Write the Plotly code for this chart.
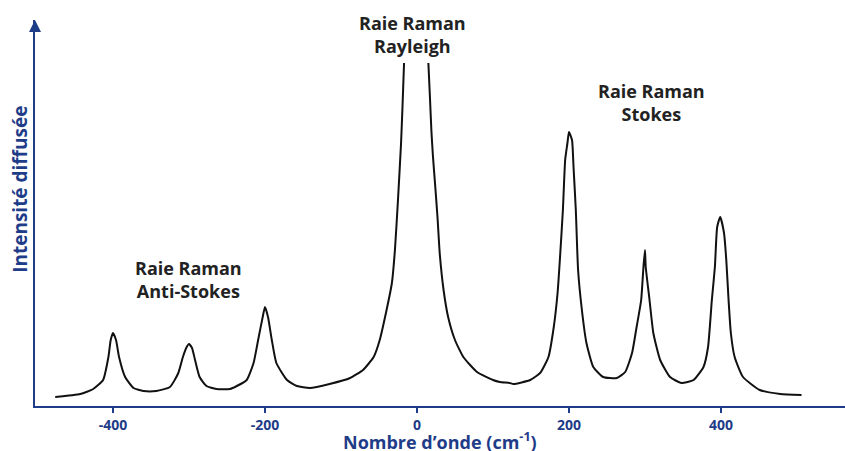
import plotly.graph_objects as go

# Wavenumber (cm-1) and scattered intensity (arbitrary units)
wavenumber = [
    -476, -443, -426, -413, -406, -403, -400, -396, -392, -384, -373, -360, -343,
    -325, -314, -308, -303, -300, -296, -292, -286, -277, -264, -246,
    -237, -224, -215, -209, -203, -200, -196, -191, -185, -171, -158, -141,
    -115, -88, -71, -57, -49, -40, -33, -29, -25, -21, -19, -17,
    None,
    15, 17, 19, 21, 24, 27, 30, 35, 41, 50, 61, 79, 100, 109, 122, 127,
    149, 162, 173, 180, 185, 188, 192, 195, 198, 200, 204, 206, 209, 212, 217, 223, 232, 245,
    263, 274, 283, 289, 295, 298, 300, 301, 306, 311, 320, 333, 348,
    364, 377, 383, 388, 392, 395, 399, 404, 407, 410, 413, 418, 429, 451, 478, 506,
]
intensity = [
    9, 12, 17, 26, 49, 66, 73, 66, 49, 29, 18, 15, 15,
    19, 33, 49, 59, 62, 58, 46, 29, 20, 17, 17,
    20, 26, 43, 66, 89, 99, 89, 66, 43, 26, 20, 18,
    22, 28, 36, 49, 66, 96, 123, 156, 206, 262, 300, 343,
    None,
    343, 310, 275, 250, 220, 189, 152, 116, 89, 66, 49, 34, 26, 24, 23, 22,
    26, 33, 49, 79, 113, 146, 196, 246, 263, 274, 266, 239, 196, 136, 96, 63, 39, 29,
    28, 34, 53, 79, 106, 139, 156, 139, 106, 73, 46, 29, 23,
    26, 39, 59, 106, 139, 179, 189, 173, 146, 106, 73, 49, 29, 16, 12, 11,
]

tick_values = [-400, -200, 0, 200, 400]
tick_labels = ["-400", "-200", "0", "200", "400"]

labels = ["Raie Raman<br>Anti-Stokes", "Raie Raman<br>Rayleigh", "Raie Raman<br>Stokes"]
label_x = [-300, -6, 309]
label_y = [127, 372, 304]

NAVY = "#1F3C88"
FONT = "Open Sans"

fig = go.Figure()
fig.add_trace(go.Scatter(
    x=wavenumber, y=intensity, mode="lines",
    line=dict(color="#111111", width=2, shape="spline", smoothing=0.5),
    connectgaps=False, hoverinfo="skip", showlegend=False,
))

for t, xx, yy in zip(labels, label_x, label_y):
    fig.add_annotation(x=xx, y=yy, xref="x", yref="y", text=t, showarrow=False,
                       font=dict(family=FONT, size=18, color="#222222", weight="bold"),
                       align="center", xanchor="center", yanchor="middle")

# y-axis title
fig.add_annotation(x=-0.0185, y=0.56, xref="paper", yref="paper",
                   xanchor="center", yanchor="middle",
                   text="Intensité diffusée", textangle=-90, showarrow=False,
                   font=dict(family=FONT, size=19, color=NAVY, weight="bold"))
# x-axis title
fig.add_annotation(x=0.5, y=-0.0895, xref="paper", yref="paper",
                   xanchor="center", yanchor="middle",
                   text="Nombre d’onde (cm<sup>-1</sup>)", showarrow=False,
                   font=dict(family=FONT, size=18, color=NAVY, weight="bold"))
# arrow head on y axis
fig.add_annotation(x=0, y=1.0, xref="paper", yref="paper", ax=0, ay=20,
                   text=" ", showarrow=True, arrowhead=2, arrowsize=1.2,
                   arrowwidth=2, arrowcolor=NAVY)

fig.update_layout(
    width=845, height=451,
    margin=dict(l=35, r=0, t=20, b=45, autoexpand=False),
    paper_bgcolor="white", plot_bgcolor="white",
    xaxis=dict(
        range=[-502.6, 563.2], showgrid=False, zeroline=False, automargin=False,
        showline=True, linecolor=NAVY, linewidth=2,
        tickmode="array", tickvals=tick_values, ticktext=tick_labels,
        ticks="outside", ticklen=5, tickwidth=2, tickcolor=NAVY,
        tickfont=dict(family=FONT, size=14, color=NAVY, weight="bold"),
    ),
    yaxis=dict(
        range=[0, 386], showgrid=False, zeroline=False, automargin=False,
        showline=True, linecolor=NAVY, linewidth=2,
        showticklabels=False, ticks="",
    ),
)

fig.write_html("out.html", config={"displayModeBar": False},
               post_script="document.body.style.margin='0';")
